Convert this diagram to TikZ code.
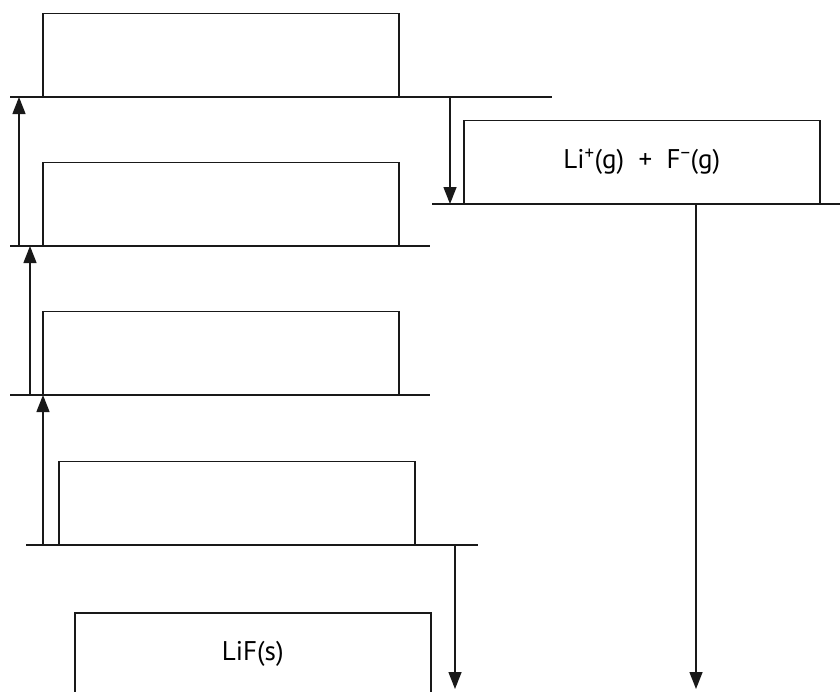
\documentclass[tikz,border=0pt]{standalone}
\usepackage{fontspec}
\setmainfont{PT Sans}
\usetikzlibrary{arrows.meta,positioning}
\tikzset
{
    statebox/.style = {rectangle, draw=black!90, line width=1.5pt, minimum width=356pt, minimum height=83pt, inner sep=0pt, font=\fontsize{27}{32}\selectfont},
    levelline/.style = {draw=black!90, line width=1.3pt},
    energyarrow/.style = {draw=black!90, line width=1.4pt, -{Triangle[length=17pt, width=13pt]}}
}

\begin{document}
\begin{tikzpicture}[x=1pt, y=-1pt]
\useasboundingbox (0,0) rectangle (840,691);
\clip (0,0) rectangle (840,691);
% boxes, bottom edge sits on the energy level
\node[statebox, anchor=south west] (atomgas) at (42,97) {};
\node[statebox, anchor=south west] (ligas) at (42,246) {};
\node[statebox, anchor=south west] (halffluor) at (42,395) {};
\node[statebox, anchor=south west] (elements) at (58,545) {};
\node[statebox, anchor=north west] (lif) at (74,612) {LiF(s)};
\node[statebox, anchor=south west] (ions) at (463,204) {Li\textsuperscript{+}(g)\ \ +\ \ F\textsuperscript{\char"2212}(g)};
% energy levels
\draw[levelline] (10,97) -- (552,97);
\draw[levelline] (10,246) -- (430,246);
\draw[levelline] (10,395) -- (430,395);
\draw[levelline] (26,545) -- (478,545);
\draw[levelline] (432,204) -- (840,204);
% steps
\draw[energyarrow] ([xshift=-23pt]ligas.south west) -- ([xshift=-23pt]atomgas.south west);
\draw[energyarrow] ([xshift=-12pt]halffluor.south west) -- ([xshift=-12pt]ligas.south west);
\draw[energyarrow] ([xshift=-15pt]elements.south west) -- ([xshift=-15pt]elements.south west |- halffluor.south);
\draw[energyarrow] ([xshift=-13pt]ions.south west |- atomgas.south) -- ([xshift=-13pt]ions.south west);
\coordinate (latticeend) at (696,689);
\coordinate (formationend) at (455,689);
\draw[energyarrow] (ions.south -| latticeend) -- (latticeend);
\draw[energyarrow] (elements.south -| formationend) -- (formationend);
\end{tikzpicture}
\end{document}
